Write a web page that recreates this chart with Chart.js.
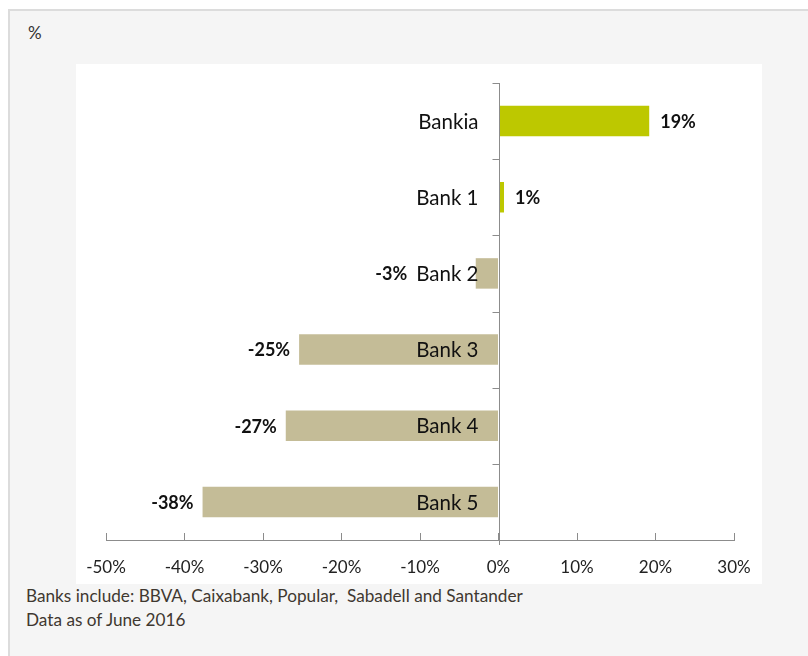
<!DOCTYPE html>
<html>
<head>
<meta charset="utf-8">
<script src="https://cdn.jsdelivr.net/npm/chart.js@4"></script>
<style>
  html, body { margin: 0; padding: 0; background: #ffffff; width: 808px; height: 656px; overflow: hidden; font-family: Lato, "Open Sans", sans-serif; }
  #panel { position: absolute; left: 8px; top: 9px; width: 810px; height: 660px; background: #f5f5f5; border-top: 2px solid #dcdcdc; border-left: 2px solid #dcdcdc; box-sizing: border-box; }
  #unit { position: absolute; left: 28px; top: 22px; font-size: 17px; color: #333; }
  #wrap { position: absolute; left: 76px; top: 64px; width: 686px; height: 520px; background: #ffffff; }
  .note { position: absolute; left: 26px; font-size: 17.2px; color: #3f3830; white-space: pre; }
</style>
</head>
<body>
<div id="panel"></div>
<div id="unit">%</div>
<div id="wrap"><canvas id="c" width="686" height="520"></canvas></div>
<div class="note" style="top:585px;">Banks include: BBVA, Caixabank, Popular,  Sabadell and Santander</div>
<div class="note" style="top:609px;">Data as of June 2016</div>
<script>
const categories = ["Bankia", "Bank 1", "Bank 2", "Bank 3", "Bank 4", "Bank 5"];
const values = [19.2, 0.7, -2.9, -25.4, -27.1, -37.7];
const valueLabels = ["19%", "1%", "-3%", "-25%", "-27%", "-38%"];
const xTicks = [-50, -40, -30, -20, -10, 0, 10, 20, 30];

const GREEN = "#bdc800";
const TAN = "#c4bc97";
const AXIS = "#8c8c8c";
const FAMILY = "Lato, 'Open Sans', sans-serif";
const CAT_FONT = "20.5px " + FAMILY;
const VAL_FONT = "bold 18px " + FAMILY;

// Draws the category (y) axis at x = 0 of the value scale, plus the data labels.
const centerAxisPlugin = {
  id: "centerAxis",
  afterDatasetsDraw(chart) {
    const ctx = chart.ctx;
    const xs = chart.scales.x, ys = chart.scales.y;
    const area = chart.chartArea;
    const zeroX = Math.round(xs.getPixelForValue(0)) + 0.5;
    ctx.save();
    ctx.strokeStyle = AXIS;
    ctx.lineWidth = 1;
    ctx.beginPath();
    ctx.moveTo(zeroX, area.top);
    ctx.lineTo(zeroX, area.bottom + 5);
    ctx.stroke();
    for (let i = 0; i < categories.length; i++) {
      const yb = Math.round(ys.getPixelForValue(i - 0.5)) + 0.5;
      ctx.beginPath();
      ctx.moveTo(zeroX - 7, yb);
      ctx.lineTo(zeroX, yb);
      ctx.stroke();
    }
    ctx.textBaseline = "middle";
    ctx.textAlign = "right";
    ctx.fillStyle = "#111";
    ctx.font = CAT_FONT;
    categories.forEach((c, i) => {
      ctx.fillText(c, zeroX - 21, ys.getPixelForValue(i) + 1);
    });
    const meta = chart.getDatasetMeta(0);
    meta.data.forEach((bar, i) => {
      const v = values[i];
      const y = bar.y + 1;
      if (v >= 0) {
        ctx.font = VAL_FONT;
        ctx.textAlign = "left";
        ctx.fillText(valueLabels[i], bar.x + 11, y);
      } else {
        ctx.font = CAT_FONT;
        const catLeft = zeroX - 21 - ctx.measureText(categories[i]).width;
        const end = Math.min(bar.x, catLeft) - 9;
        ctx.font = VAL_FONT;
        ctx.textAlign = "right";
        ctx.fillText(valueLabels[i], end, y);
      }
    });
    ctx.restore();
  }
};

new Chart(document.getElementById("c"), {
  type: "bar",
  data: {
    labels: categories,
    datasets: [{
      data: values,
      backgroundColor: values.map(v => v >= 0 ? GREEN : TAN),
      borderWidth: 0,
      categoryPercentage: 1.0,
      barPercentage: 0.4
    }]
  },
  options: {
    indexAxis: "y",
    responsive: false,
    animation: false,
    events: [],
    layout: { padding: { left: 30, right: 28, top: 19, bottom: 0 } },
    plugins: { legend: { display: false }, tooltip: { enabled: false } },
    scales: {
      x: {
        min: -50, max: 30,
        afterBuildTicks(scale) { scale.ticks = xTicks.map(v => ({ value: v })); },
        afterFit(scale) { scale.height = 44; scale.paddingLeft = 0; scale.paddingRight = 0; },
        grid: { drawOnChartArea: false, drawTicks: true, tickLength: -7, color: AXIS, lineWidth: 1 },
        border: { display: true, color: AXIS, width: 1 },
        ticks: { padding: 24, color: "#222", font: { family: FAMILY, size: 17 }, maxRotation: 0, autoSkip: false, callback: v => v + "%" }
      },
      y: {
        display: false
      }
    }
  },
  plugins: [centerAxisPlugin]
});
</script>
</body>
</html>
